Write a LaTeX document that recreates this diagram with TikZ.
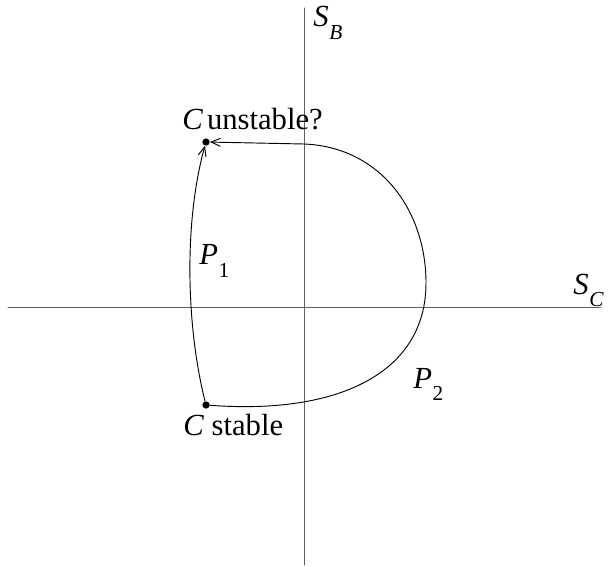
\documentclass[tikz,border=0pt]{standalone}
\usepackage{fontspec}
\setmainfont{Liberation Serif}
\usetikzlibrary{arrows.meta}

\newcommand{\lowsub}[2]{\textit{#1}\kern.5pt\raisebox{-.4em}{\fontsize{16}{16}\selectfont #2}}

\tikzset{
  axis/.style={gray!75!black,line width=.75pt},
  path line/.style={black,line width=.7pt},
  pt/.style={circle,fill=black,inner sep=0pt,minimum size=5.5pt},
  lbl/.style={anchor=base west,inner sep=0pt,font=\rmfamily\fontsize{23}{27}\selectfont}
}

\begin{document}
\begin{tikzpicture}[x=.75pt,y=-.75pt,line cap=round,line join=round]
  \useasboundingbox (0,0) rectangle (608,567);

  % axes
  \coordinate (xl) at (8,307);   \coordinate (xr) at (601,307);
  \coordinate (yt) at (304,8);   \coordinate (yb) at (304,565);
  \draw[axis] (xl) -- (xr);
  \draw[axis] (yt) -- (yb);
  \node[lbl] (sb) at (313,27) {\lowsub{S}{\textit{B}}};
  \node[lbl] (sc) at (573,294) {\lowsub{S}{\textit{C}}};

  % the two states
  \node[pt] (unstable) at (206,142) {};
  \node[pt] (stable) at (206,405) {};
  \node[lbl] (unstablelbl) at (182,130) {\textit{C}\kern3pt unstable?};
  \node[lbl] (stablelbl) at (183,435) {\textit{C} stable};

  % paths between them
  \draw[path line,-{Straight Barb[length=7pt,width=6pt]}]
    (stable) .. controls (187,330) and (183,225) .. (unstable);
  \draw[path line,-{Straight Barb[length=7pt,width=6pt]}]
    (stable) .. controls (340,415) and (426,372) .. (426,283)
    .. controls (426,210) and (380,147) .. (304,144) -- (unstable);
  \node[lbl] (p1) at (199,265) {\lowsub{P}{1}};
  \node[lbl] (p2) at (413,388) {\lowsub{P}{2}};
\end{tikzpicture}
\end{document}
